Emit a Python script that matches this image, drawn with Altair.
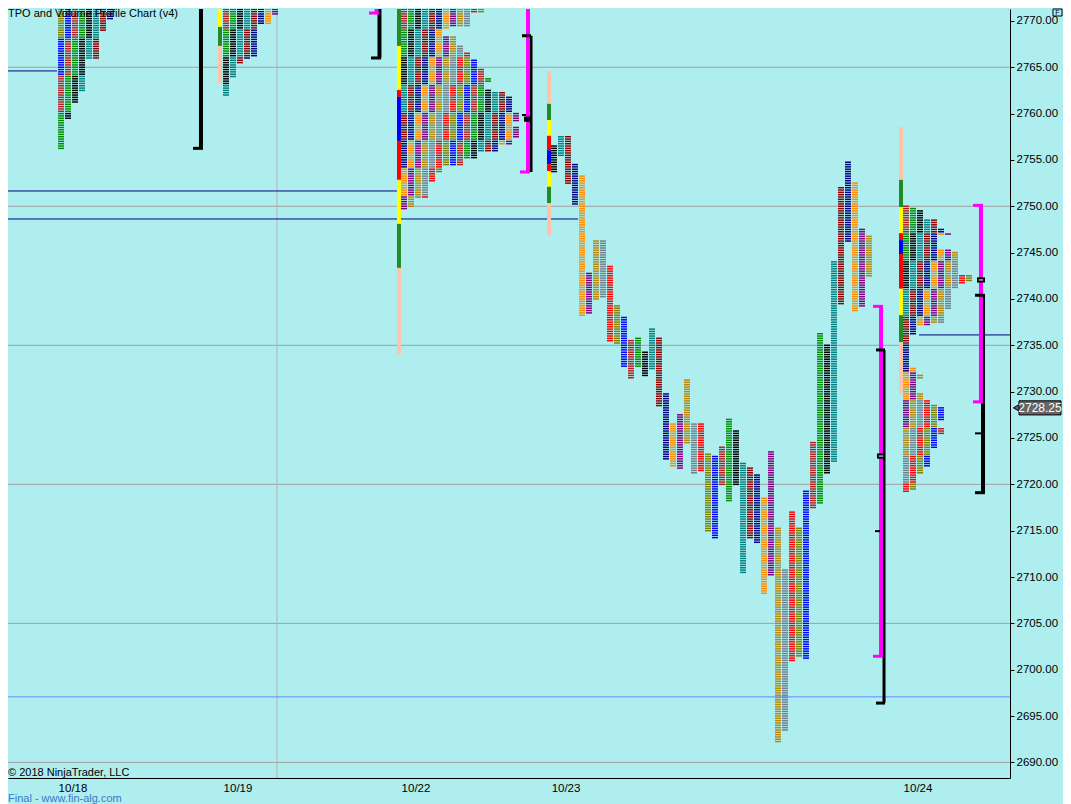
import altair as alt
import pandas as pd

alt.data_transformers.disable_max_rows()

TICK = 0.25

# ---------------- colours of the 13 half-hour periods ----------------
period_colors = ["#000000", "#008080", "#8B0000", "#000080", "#FF8C00", "#800080",
                 "#B8860B", "#708090", "#FF0000", "#808000", "#0000FF", "#B22222", "#008C00"]
bar_colors = {"G": "#228B22", "Y": "#FFFF00", "R": "#FF0000", "B": "#0000FF", "S": "#FFC3AA"}

# ---------------- axis texts ----------------
day_labels = ["10/18", "10/19", "10/22", "10/23", "10/24"]
day_label_slot = [10.43, 34.0, 59.43, 80.86, 131.14]
price_ticks = list(range(2690, 2771, 5))
grid_prices = [2690, 2705, 2720, 2735, 2750, 2765]
grid_vertical_slot = [39.57]
last_price = [2728.25]

# ---------------- collapsed (composite) profiles: segment hi, lo, letters ----------------
p18_slot = 8.29
p18_hi = [2772.0, 2770.0, 2768.75, 2765.75, 2762.25, 2761.0, 2759.25]
p18_lo = [2770.25, 2769.0, 2766.0, 2762.5, 2761.25, 2759.5, 2756.25]
p18_n = [8, 7, 6, 4, 3, 2, 1]

p19_slot = 31.86
p19_hi = [2772.0, 2771.25, 2770.5, 2769.5, 2766.0, 2765.75, 2765.25, 2763.75]
p19_lo = [2771.5, 2770.75, 2769.75, 2766.25, 2766.0, 2765.5, 2764.0, 2762.0]
p19_n = [12, 8, 7, 5, 4, 3, 2, 1]

p22_slot = 57.29
p22_hi = [2772.0, 2770.75, 2769.25, 2769.0, 2768.25, 2767.25, 2766.5, 2765.75, 2764.75, 2763.75,
          2763.25, 2762.5, 2762.25, 2761.75, 2760.0, 2759.0, 2758.5, 2757.25, 2756.5, 2755.75,
          2755.0, 2754.25, 2753.5, 2752.5, 2750.75, 2749.75]
p22_lo = [2771.0, 2769.5, 2769.25, 2768.5, 2767.5, 2766.75, 2766.0, 2765.0, 2764.0, 2763.5,
          2762.75, 2762.5, 2762.0, 2760.25, 2759.25, 2758.75, 2757.5, 2756.75, 2756.0, 2755.25,
          2754.5, 2753.75, 2752.75, 2751.0, 2750.0, 2749.75]
p22_n = [12, 10, 7, 6, 8, 9, 10, 11, 12, 13, 12, 13, 15, 16, 17, 16, 17, 16, 14, 11, 9, 6, 5, 4, 2, 1]

p24_slot = 129.0
p24_hi = [2750.0, 2749.75, 2749.5, 2748.5, 2747.5, 2747.0, 2746.75, 2745.25, 2745.0, 2742.5,
          2741.75, 2741.5, 2741.0, 2738.75, 2737.25, 2737.0,
          2736.0, 2732.5, 2731.75, 2731.25, 2729.75, 2729.0, 2728.5, 2728.25, 2726.75, 2726.0,
          2725.25, 2723.75, 2721.75, 2721.0, 2719.25]
p24_lo = [2750.0, 2749.75, 2748.75, 2747.75, 2747.25, 2747.0, 2745.5, 2745.25, 2742.75, 2742.0,
          2741.75, 2741.25, 2739.0, 2737.5, 2737.25, 2736.25,
          2732.75, 2732.0, 2731.5, 2730.0, 2729.25, 2728.75, 2728.5, 2727.0, 2726.25, 2725.5,
          2724.0, 2722.0, 2721.25, 2719.5, 2719.25]
p24_n = [1, 2, 3, 5, 6, 7, 5, 7, 8, 10, 9, 8, 7, 6, 4, 2,
         1, 2, 3, 2, 3, 4, 5, 6, 5, 6, 5, 4, 3, 2, 1]

# ---------------- 10/23 split profile: one column per period ----------------
c23_slot = 78.71
c23_top = [2756.5, 2757.5, 2757.5, 2754.5, 2753.25, 2742.75, 2746.25, 2746.25, 2743.5, 2739.25,
           2738.0, 2735.5, 2735.75, 2734.25, 2736.75, 2735.75, 2729.75, 2726.5, 2727.5, 2731.25,
           2726.5, 2726.5, 2723.25, 2723.0, 2724.0, 2727.0, 2725.75, 2722.25, 2721.75, 2721.0,
           2718.5, 2723.5, 2715.25, 2710.75, 2717.0, 2715.25, 2719.25, 2724.5, 2736.25, 2735.0,
           2744.0, 2752.0, 2754.75, 2752.5, 2747.5, 2746.75]
c23_bot = [2753.75, 2755.5, 2752.5, 2750.25, 2738.25, 2738.5, 2740.0, 2740.25, 2735.5, 2735.25,
           2732.75, 2731.5, 2732.75, 2731.75, 2732.5, 2728.5, 2722.75, 2722.0, 2721.75, 2724.5,
           2721.25, 2721.5, 2715.0, 2714.25, 2720.0, 2718.25, 2720.0, 2710.5, 2714.25, 2713.75,
           2708.25, 2710.25, 2692.25, 2693.5, 2701.0, 2701.5, 2701.25, 2717.5, 2718.0, 2721.25,
           2722.5, 2739.5, 2746.25, 2738.75, 2739.25, 2742.5]

# ---------------- initial-balance / value-area bars ----------------
bars_slot = [31.14, 56.71, 78.14, 128.43]
bars_edges = [
    [2772.0, 2771.3, 2769.35, 2767.3, 2763.3],
    [2772.0, 2767.3, 2762.55, 2761.8, 2757.05, 2752.85, 2748.1, 2743.35, 2734.0],
    [2764.6, 2761.05, 2759.3, 2757.6, 2756.05, 2754.55, 2753.8, 2752.1, 2750.35, 2746.8],
    [2758.55, 2752.85, 2749.9, 2747.1, 2746.35, 2744.85, 2741.1, 2738.25, 2735.35, 2729.75],
]
bars_codes = [
    ["R", "Y", "G", "S"],
    ["G", "Y", "R", "B", "R", "Y", "G", "S"],
    ["S", "G", "Y", "R", "B", "R", "Y", "G", "S"],
    ["S", "G", "Y", "R", "B", "R", "Y", "G", "S"],
]

# ---------------- level lines ----------------
level_price = [2764.6, 2751.65, 2748.63, 2736.12, 2697.07]
level_from = [1.143, 1.143, 1.143, 131.29, 1.143]
level_to = [8.14, 56.86, 82.57, 144.29, 144.29]
level_color = ["#000080", "#000080", "#000080", "#000080", "#6488FF"]

# ---------------- range brackets ----------------
brk_slot = [28.71, 54.21, 75.86, 126.29, 140.43, 53.79, 75.43, 125.86, 140.14]
brk_hi = [2772.0, 2772.0, 2768.4, 2734.5, 2740.4, 2772.0, 2772.0, 2739.2, 2750.1]
brk_lo = [2756.25, 2766.0, 2753.7, 2696.4, 2719.1, 2770.85, 2753.7, 2701.45, 2728.9]
brk_color = ["#000000"] * 5 + ["#FF00FF"] * 4
brk_width = [4, 4, 3, 3, 4, 4, 4, 4, 4]

foot_from = [27.57, 53.0, 74.57, 74.57, 125.14, 125.14, 125.0, 139.29, 139.29, 139.29,
             52.71, 74.29, 124.71, 124.71, 139.0, 139.0]
foot_to = [29.0, 54.43, 75.86, 75.14, 126.43, 126.43, 125.71, 140.71, 140.71, 140.14,
           54.14, 75.71, 126.14, 126.14, 140.43, 140.43]
foot_price = [2756.25, 2766.0, 2768.4, 2759.85, 2734.5, 2696.4, 2714.95, 2740.4, 2719.1, 2725.5,
              2770.85, 2753.7, 2739.2, 2701.45, 2750.1, 2728.9]
foot_color = ["#000000"] * 10 + ["#FF00FF"] * 6
foot_width = [3, 3, 3, 2, 3, 3, 2, 3, 3, 2, 3, 3, 3, 3, 3, 3]

box_from = [74.86, 125.29, 139.57]
box_to = [75.71, 126.43, 140.71]
box_price = [2759.4, 2723.05, 2742.05]
box_hollow = [False, True, True]

# ====================================================================
W, H = 1002, 769
X_DOM = [8 / 7, 1010 / 7]
Y_DOM = [2688.317, 2771.284]
DASH_W = 0.857
DASH_HALF = 0.08
FONT = "Liberation Sans"

xs = alt.Scale(domain=X_DOM, nice=False, zero=False)
ys = alt.Scale(domain=Y_DOM, nice=False, zero=False)
x_axis = alt.Axis(labels=False, ticks=False, grid=False, title=None, domainColor="#000000",
                  domainWidth=1)
y_axis = alt.Axis(orient="right", values=price_ticks, format=".2f", tickSize=4, tickColor="#000000",
                  domainColor="#000000", labelColor="#000000", labelFont=FONT, labelFontSize=11.5,
                  labelPadding=2, grid=False, title=None)


def X(f):
    return alt.X(f, type="quantitative", scale=xs, axis=x_axis)


def Y(f):
    return alt.Y(f, type="quantitative", scale=ys, axis=y_axis)


dashes = []


def add(slot, p, color):
    dashes.append({"x": slot, "x2": slot + DASH_W, "y": p - DASH_HALF, "y2": p + DASH_HALF, "c": color})


def collapsed(slot0, his, los, ns, base, band):
    top = his[0]
    for hi, lo, n in zip(his, los, ns):
        k = int(round((hi - lo) / TICK))
        for j in range(k + 1):
            p = hi - j * TICK
            shift = int((top - p) // band)
            for c in range(n):
                add(slot0 + c, p, period_colors[(base + c + shift) % 13])


collapsed(p18_slot, p18_hi, p18_lo, p18_n, 9, 4)
collapsed(p19_slot, p19_hi, p19_lo, p19_n, 11, 3)
collapsed(p22_slot, p22_hi, p22_lo, p22_n, 11, 3)
collapsed(p24_slot, p24_hi, p24_lo, p24_n, 11, 3)

for i, (hi, lo) in enumerate(zip(c23_top, c23_bot)):
    col = period_colors[i % 13]
    k = int(round((hi - lo) / TICK))
    for j in range(k + 1):
        add(c23_slot + i, hi - j * TICK, col)

dash_df = pd.DataFrame(dashes)

bar_rows = []
for s, edges, codes in zip(bars_slot, bars_edges, bars_codes):
    for a, b, cd in zip(edges[:-1], edges[1:], codes):
        bar_rows.append({"x": s, "x2": s + 0.571, "y": b, "y2": a, "c": bar_colors[cd]})
bar_df = pd.DataFrame(bar_rows)

grid_h = pd.DataFrame({"y": grid_prices, "x": X_DOM[0], "x2": X_DOM[1]})
grid_v = pd.DataFrame({"x": grid_vertical_slot, "y": Y_DOM[0], "y2": Y_DOM[1]})
level_df = pd.DataFrame({"y": level_price, "x": level_from, "x2": level_to, "c": level_color})
brk_df = pd.DataFrame({"x": brk_slot, "y": brk_lo, "y2": brk_hi, "c": brk_color, "w": brk_width})
foot_df = pd.DataFrame({"x": foot_from, "x2": foot_to, "y": foot_price, "c": foot_color, "w": foot_width})
box_df = pd.DataFrame({"x": box_from, "x2": box_to, "y": [p - 0.28 for p in box_price],
                       "y2": [p + 0.28 for p in box_price]})
inner_df = pd.DataFrame({"x": [a + 0.25 for a, h in zip(box_from, box_hollow) if h],
                         "x2": [b - 0.25 for b, h in zip(box_to, box_hollow) if h],
                         "y": [p for p, h in zip(box_price, box_hollow) if h]})
day_df = pd.DataFrame({"x": day_label_slot, "t": day_labels})

layers = []
layers.append(alt.Chart(grid_h).mark_rule(color="#A0A0A0", strokeWidth=1, clip=True).encode(
    x=X("x"), x2="x2", y=Y("y")))
layers.append(alt.Chart(grid_v).mark_rule(color="#B4B4B4", strokeWidth=1, clip=True).encode(
    x=X("x"), y=Y("y"), y2="y2"))
layers.append(alt.Chart(level_df).mark_rule(strokeWidth=1, clip=True).encode(
    x=X("x"), x2="x2", y=Y("y"), color=alt.Color("c:N", scale=None)))
layers.append(alt.Chart(dash_df).mark_rect(clip=True).encode(
    x=X("x"), x2="x2", y=Y("y"), y2="y2", color=alt.Color("c:N", scale=None)))
layers.append(alt.Chart(bar_df).mark_rect(clip=True).encode(
    x=X("x"), x2="x2", y=Y("y"), y2="y2", color=alt.Color("c:N", scale=None)))
layers.append(alt.Chart(brk_df).mark_rule(clip=True).encode(
    x=X("x"), y=Y("y"), y2="y2", color=alt.Color("c:N", scale=None),
    strokeWidth=alt.StrokeWidth("w:Q", scale=None)))
layers.append(alt.Chart(foot_df).mark_rule(clip=True).encode(
    x=X("x"), x2="x2", y=Y("y"), color=alt.Color("c:N", scale=None),
    strokeWidth=alt.StrokeWidth("w:Q", scale=None)))
layers.append(alt.Chart(box_df).mark_rect(color="#000000", clip=True).encode(
    x=X("x"), x2="x2", y=Y("y"), y2="y2"))
layers.append(alt.Chart(inner_df).mark_rule(color="#FFFFFF", strokeWidth=1, clip=True).encode(
    x=X("x"), x2="x2", y=Y("y")))

# texts
layers.append(alt.Chart(day_df).mark_text(font=FONT, fontSize=11.5, color="#000000", baseline="middle").encode(
    x=X("x"), y=alt.value(H + 11), text="t:N"))
layers.append(alt.Chart(pd.DataFrame({"t": ["TPO and Volume Profile Chart (v4)"]})).mark_text(
    font=FONT, fontSize=11, color="#000000", align="left", baseline="alphabetic").encode(
    x=alt.value(0), y=alt.value(8), text="t:N"))
layers.append(alt.Chart(pd.DataFrame({"t": ["© 2018 NinjaTrader, LLC"]})).mark_text(
    font=FONT, fontSize=11, color="#000000", align="left", baseline="alphabetic").encode(
    x=alt.value(0), y=alt.value(H - 2), text="t:N"))
layers.append(alt.Chart(pd.DataFrame({"t": ["Final - www.fin-alg.com"]})).mark_text(
    font=FONT, fontSize=11, color="#3C78C8", align="left", baseline="alphabetic").encode(
    x=alt.value(0), y=alt.value(H + 24), text="t:N"))

# F button (top-right corner, above the first price label)
layers.append(alt.Chart(pd.DataFrame({"t": ["F"]})).mark_rect(fill="#AFEEEE", stroke="#000000", strokeWidth=1).encode(
    x=alt.value(W + 43), x2=alt.value(W + 52), y=alt.value(0), y2=alt.value(7)))
layers.append(alt.Chart(pd.DataFrame({"t": ["F"]})).mark_text(font=FONT, fontSize=7, color="#000000", baseline="middle").encode(
    x=alt.value(W + 47.5), y=alt.value(4), text="t:N"))

# last price marker
lp_df = pd.DataFrame({"p": last_price, "lo": [v - 0.76 for v in last_price], "hi": [v + 0.76 for v in last_price],
                      "t": [f"{v:.2f}" for v in last_price]})
layers.append(alt.Chart(lp_df).mark_point(shape="triangle-left", filled=True, size=70, fill="#666666",
                                          stroke="#000000", strokeWidth=1, opacity=1).encode(
    x=alt.value(W + 7), y=Y("p")))
layers.append(alt.Chart(lp_df).mark_rect(fill="#666666", stroke="#000000", strokeWidth=1).encode(
    x=alt.value(W + 9), x2=alt.value(W + 51), y=Y("lo"), y2="hi"))
layers.append(alt.Chart(lp_df).mark_text(font=FONT, fontSize=12, color="#FFFFFF", baseline="middle").encode(
    x=alt.value(W + 30), y=Y("p"), text="t:N"))

chart = alt.layer(*layers).properties(width=W, height=H, padding=0, background="#AFEEEE").configure_view(
    stroke=None, fill="#AFEEEE")

chart.save("out.html", embed_options={"renderer": "svg", "actions": False})
